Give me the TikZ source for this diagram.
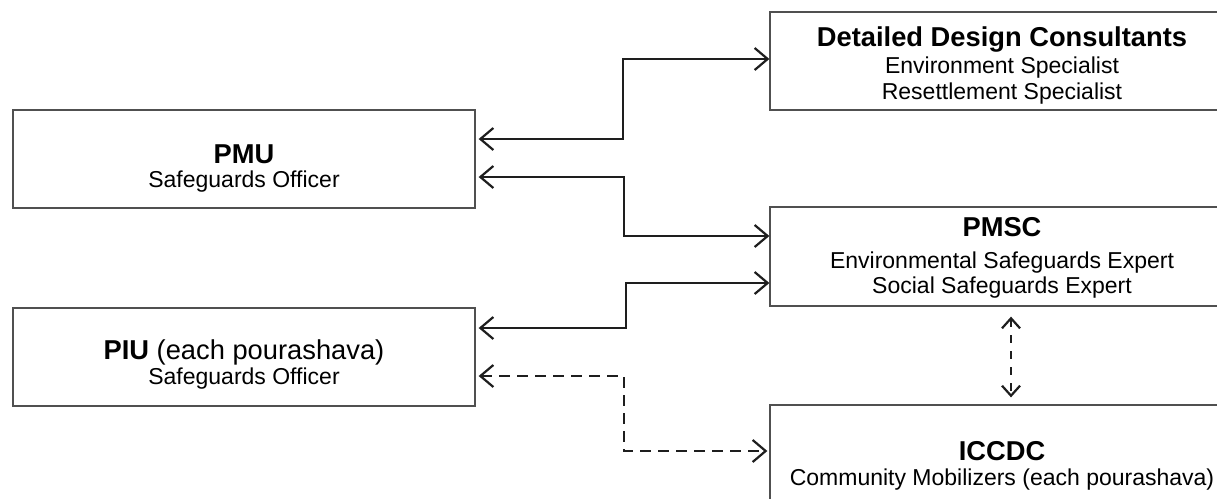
\documentclass[tikz,border=0pt]{standalone}
\usepackage{fontspec}
\setmainfont{Liberation Sans}
\usetikzlibrary{arrows.meta}
\definecolor{boxgray}{HTML}{505050}
\definecolor{linkgray}{HTML}{1E1E1E}
\newcommand\mytitle{\fontsize{27.3}{27}\selectfont\bfseries}
\newcommand\mytitlereg{\fontsize{27.3}{27}\selectfont}
\newcommand\mysubt{\fontsize{23}{26}\selectfont}
\tikzset{
  box/.style={draw=boxgray, line width=1.3pt, minimum height=98pt, inner sep=0pt},
  lbox/.style={box, minimum width=462pt},
  rbox/.style={box, minimum width=464pt},
  txt/.style={align=center, inner sep=0pt, anchor=base, font=\mysubt, text=black},
  link/.style={draw=linkgray, line width=2.2pt, {Straight Barb[length=13pt,width=22pt]}-{Straight Barb[length=13pt,width=22pt]}, shorten <=3pt},
  dlink/.style={link, dash pattern=on 11pt off 7pt},
  vlink/.style={draw=linkgray, line width=2.2pt, dash pattern=on 8pt off 8pt, {Straight Barb[length=10pt,width=18pt]}-{Straight Barb[length=10pt,width=18pt]}}
}
\begin{document}
\begin{tikzpicture}[x=1pt,y=-1pt]
\useasboundingbox (0,0) rectangle (1217,498);
\clip (0,0) rectangle (1217,498);
\fill[white] (0,0) rectangle (1217,498);

% boxes
\node[lbox] (pmu) at (244,159) {};
\node[lbox] (piu) at (244,357) {};
\node[rbox] (ddc) at (1002,61) {};
\node[rbox, minimum height=99pt] (pmsc) at (1002,256.5) {};
\node[rbox] (iccdc) at (1002,454) {};

% texts (anchored at the baseline of the last line)
\node[txt] (pmut) at (244,187) {{\mytitle PMU}\\[-2pt] Safeguards Officer};
\node[txt] (piut) at (244,384) {{\mytitle PIU}{\mytitlereg{} (each pourashava)}\\[-1pt] Safeguards Officer};
\node[txt] (ddct) at (1002,99) {{\mytitle Detailed Design Consultants}\\[1pt] Environment Specialist\\ Resettlement Specialist};
\node[txt] (pmsct) at (1002,293) {{\mytitle PMSC}\\[6pt] Environmental Safeguards Expert\\[-1pt] Social Safeguards Expert};
\node[txt] (iccdct) at (1002,485) {{\mytitle ICCDC}\\[-1pt] Community Mobilizers (each pourashava)};

% connectors
\draw[link] (pmu.east |- 0,139) -- (623,139) |- (ddc.west |- 0,59);
\draw[link] (pmu.east |- 0,177) -- (624,177) |- (pmsc.west |- 0,236);
\draw[link] (piu.east |- 0,328) -- (626,328) |- (pmsc.west |- 0,283);
\draw[dlink] (piu.east |- 0,376) -- (624,376) |- ([xshift=-2pt]iccdc.west |- 0,451);
\draw[vlink, shorten <=10pt, shorten >=7pt] (pmsc.south -| 1011,0) -- (iccdc.north -| 1011,0);
\end{tikzpicture}
\end{document}
